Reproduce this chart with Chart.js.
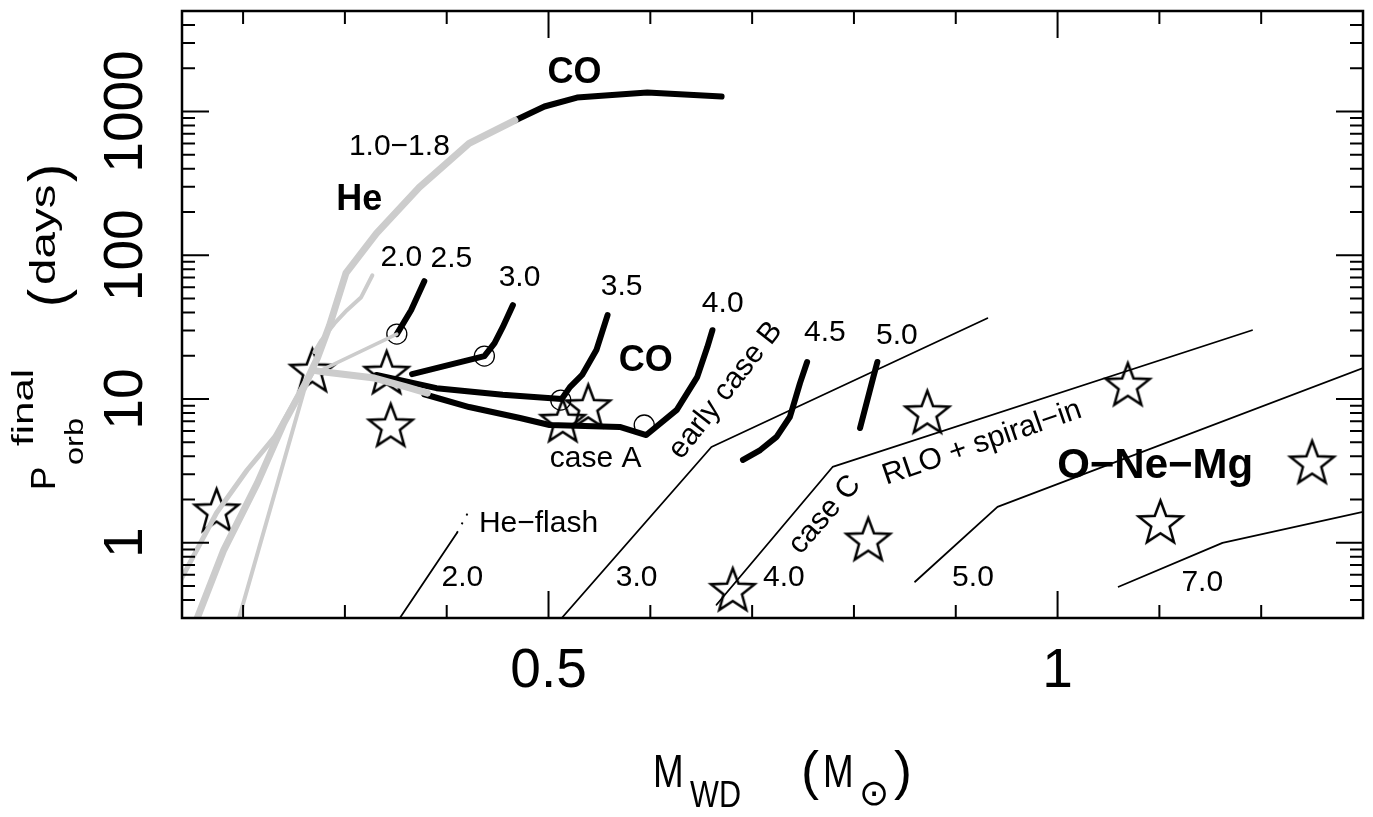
<!DOCTYPE html>
<html><head><meta charset="utf-8">
<script src="https://cdn.jsdelivr.net/npm/chart.js@4.4.1/dist/chart.umd.min.js"></script>
<style>html,body{margin:0;padding:0;background:#fff;}canvas{display:block;}</style>
</head><body>
<canvas id="c" width="1373" height="817"></canvas>
<script>
// ---------- axes ----------
const massMin = 0.14, massMax = 1.30;
const porbMin = 0.3, porbMax = 5000;
const massTicks = [0.2,0.3,0.4,0.5,0.6,0.7,0.8,0.9,1.0,1.1,1.2];
const massLabelValues = [0.5, 1.0];
const massLabelTexts = ['0.5', '1'];
const porbLabelValues = [1, 10, 100, 1000];
const porbLabelTexts = ['1', '10', '100', '1000'];

// ---------- grey (He white dwarf) tracks ----------
const heMainMass = [0.155,0.181,0.214,0.240,0.263,0.273,0.285,0.301,0.331,0.373,0.422,0.467];
const heMainPorb = [0.30,0.89,2.6,6.8,13.6,19.3,32.6,75,142,297,600,866];
const heLeftMass = [0.138,0.174,0.204,0.231,0.257,0.268];
const heLeftPorb = [0.54,1.62,3.21,5.45,11.5,15.2];
const heSteepMass = [0.196,0.260,0.268];
const heSteepPorb = [0.30,11.5,15.2];
const heFlatMass = [0.268,0.280,0.329,0.361,0.381];
const heFlatPorb = [15.9,15.4,14.0,12.1,11.0];
const heLinkMass = [0.277,0.351];
const heLinkPorb = [15.9,28.3];
const he20Mass = [0.270,0.277,0.290,0.302,0.316,0.327];
const he20Porb = [21.2,25.7,33.7,41.5,51.1,72.6];

// ---------- black (CO white dwarf) tracks ----------
const coWideMass = [0.467,0.496,0.528,0.597,0.670];
const coWidePorb = [866,1083,1250,1355,1271];
const co25Mass = [0.351,0.365,0.378];
const co25Porb = [28.3,41.5,66];
const co30Mass = [0.366,0.437,0.447,0.455,0.465];
const co30Porb = [14.9,19.9,24.5,31.6,45];
const co35Mass = [0.331,0.390,0.455,0.513,0.521,0.533,0.547,0.558];
const co35Porb = [14.7,11.9,10.7,10.0,12.1,14.7,21.9,38.3];
const co40Mass = [0.378,0.422,0.472,0.501,0.570,0.596,0.626,0.646,0.656,0.661];
const co40Porb = [10.8,8.8,7.38,6.6,6.4,5.62,8.4,14.2,23,30.1];
const co45Mass = [0.691,0.708,0.724,0.737,0.740,0.747,0.754];
const co45Porb = [3.77,4.42,5.45,7.5,8.8,12.9,18.1];
const co50Mass = [0.806,0.819,0.823];
const co50Porb = [6.29,14.2,18.1];

// ---------- thin boundary lines ----------
const flashMass = [0.354,0.410];
const flashPorb = [0.30,1.17];
const flashDotMass = [0.410,0.424];
const flashDotPorb = [1.17,1.78];
const bound30Mass = [0.513,0.660,0.931];
const bound30Porb = [0.30,4.64,36.5];
const bound40Mass = [0.665,0.779,1.191];
const bound40Porb = [0.371,3.37,30.1];
const bound50Mass = [0.860,0.941,1.30];
const bound50Porb = [0.536,1.78,16.4];
const bound70Mass = [1.060,1.162,1.30];
const bound70Porb = [0.495,1.0,1.64];

// ---------- observed systems & markers ----------
const starMass = [0.174,0.268,0.341,0.345,0.514,0.539,0.681,0.814,0.872,1.069,1.101,1.250];
const starPorb = [1.64,15.4,14.9,6.4,6.9,8.7,0.46,1.03,7.9,12.3,1.36,3.54];
const circMass = [0.351,0.437,0.512,0.594];
const circPorb = [28.3,19.9,9.84,6.6];

// ---------- in-plot labels ----------
const labelText = ['CO','1.0\u22121.8','He','2.0','2.5','3.0','3.5','CO','4.0','early case B','4.5','5.0','case A','He\u2212flash','2.0','3.0','4.0','5.0','7.0','case C','RLO + spiral\u2212in','O\u2212Ne\u2212Mg'];
const labelMass = [0.5256,0.3535,0.3142,0.3555,0.4046,0.4715,0.5718,0.5954,0.6711,0.674,0.7714,0.8422,0.5462,0.4902,0.4154,0.5865,0.7311,0.9169,1.1421,0.7714,0.9258,1.0959];
const labelPorb = [1836,571,241,96.8,95.3,70.3,60,18.4,45.7,11.5,28.7,27.4,3.83,1.355,0.571,0.571,0.571,0.571,0.527,1.565,4.95,3.42];
const labelAngle = [0,0,0,0,0,0,0,0,0,-52,0,0,0,0,0,0,0,0,0,-49,-19,0];
const labelBold = [1,0,1,0,0,0,0,1,0,0,0,0,0,0,0,0,0,0,0,0,0,1];

const GREY = '#cccccc';
const FONT = '"Liberation Sans", Arial, "DejaVu Sans", sans-serif';

function pts(m, p) { return m.map((v, i) => ({x: v, y: p[i]})); }
function line(label, m, p, color, w, extra) {
  return Object.assign({
    label, data: pts(m, p), showLine: true, borderColor: color, borderWidth: w,
    pointRadius: 0, pointHoverRadius: 0, fill: false, tension: 0,
    borderCapStyle: 'round', borderJoinStyle: 'round'
  }, extra || {});
}
function makeStar(R, ratio, lw) {
  const s = Math.ceil(2 * R + 2 * lw + 4);
  const c = document.createElement('canvas');
  c.width = s; c.height = s;
  const g = c.getContext('2d');
  g.translate(s / 2, s / 2);
  g.beginPath();
  for (let i = 0; i < 10; i++) {
    const a = -Math.PI / 2 + i * Math.PI / 5;
    const rr = (i % 2) ? R * ratio : R;
    g.lineTo(rr * Math.cos(a), rr * Math.sin(a));
  }
  g.closePath();
  g.lineWidth = lw; g.lineJoin = 'miter'; g.strokeStyle = '#000';
  g.stroke();
  return c;
}
const starImg = makeStar(23, 0.42, 2.5);

const datasets = [
  line('He 1.0-1.8', heMainMass, heMainPorb, GREY, 7),
  line('He left', heLeftMass, heLeftPorb, GREY, 5),
  line('He steep', heSteepMass, heSteepPorb, GREY, 4),
  line('He flat', heFlatMass, heFlatPorb, GREY, 7),
  line('He link', heLinkMass, heLinkPorb, GREY, 3.5),
  line('He 2.0', he20Mass, he20Porb, GREY, 4),
  line('CO wide', coWideMass, coWidePorb, '#000', 6),
  line('CO 2.5', co25Mass, co25Porb, '#000', 6),
  line('CO 3.0', co30Mass, co30Porb, '#000', 6),
  line('CO 3.5', co35Mass, co35Porb, '#000', 6),
  line('CO 4.0', co40Mass, co40Porb, '#000', 6),
  line('CO 4.5', co45Mass, co45Porb, '#000', 6),
  line('CO 5.0', co50Mass, co50Porb, '#000', 6),
  line('He-flash', flashMass, flashPorb, '#000', 1.8),
  line('He-flash dotted', flashDotMass, flashDotPorb, '#000', 1.8, {borderDash: [2, 8], borderCapStyle: 'butt'}),
  line('early case B', bound30Mass, bound30Porb, '#000', 1.8),
  line('case C', bound40Mass, bound40Porb, '#000', 1.8),
  line('5.0 bound', bound50Mass, bound50Porb, '#000', 1.8),
  line('7.0 bound', bound70Mass, bound70Porb, '#000', 1.8),
  { label: 'onset', data: pts(circMass, circPorb), showLine: false, pointStyle: 'circle',
    pointRadius: 10, pointHoverRadius: 10, borderColor: '#000', borderWidth: 1.3, backgroundColor: 'rgba(0,0,0,0)' },
  { label: 'observed', data: pts(starMass, starPorb), showLine: false, pointStyle: starImg,
    pointRadius: 23, pointHoverRadius: 23, borderColor: '#000', backgroundColor: 'rgba(0,0,0,0)' }
];

function txt(ctx, t, x, y, font, sx) {
  ctx.save();
  ctx.translate(x, y);
  ctx.scale(sx || 1, 1);
  ctx.font = font;
  ctx.fillText(t, 0, 0);
  ctx.restore();
}

const frame = {
  id: 'frame',
  afterDraw(chart) {
    const ctx = chart.ctx, a = chart.chartArea;
    const xs = chart.scales.x, ys = chart.scales.y;
    ctx.save();
    // in-plot labels
    ctx.fillStyle = '#000';
    ctx.textAlign = 'center'; ctx.textBaseline = 'middle';
    labelText.forEach((t, i) => {
      const px = xs.getPixelForValue(labelMass[i]);
      const py = ys.getPixelForValue(labelPorb[i]);
      ctx.save();
      ctx.translate(px, py);
      ctx.rotate(labelAngle[i] * Math.PI / 180);
      ctx.font = labelBold[i] ? ('bold ' + (t.length > 4 ? 42 : 36) + 'px ' + FONT) : ('30px ' + FONT);
      ctx.fillText(t, 0, 0);
      ctx.restore();
    });
    // frame
    ctx.strokeStyle = '#000'; ctx.lineWidth = 2.5;
    ctx.strokeRect(a.left, a.top, a.right - a.left, a.bottom - a.top);
    ctx.lineWidth = 2;
    ctx.beginPath();
    massTicks.forEach(v => {
      const px = xs.getPixelForValue(v);
      const len = massLabelValues.includes(v) ? 27 : 13;
      ctx.moveTo(px, a.bottom); ctx.lineTo(px, a.bottom - len);
      ctx.moveTo(px, a.top); ctx.lineTo(px, a.top + len);
    });
    for (let d = 0.1; d <= 1000.5; d *= 10) {
      for (let k = 1; k <= 9; k++) {
        const v = d * k;
        if (v < porbMin * 0.999 || v > porbMax) continue;
        const py = ys.getPixelForValue(v);
        const len = (k === 1) ? 27 : 13;
        ctx.moveTo(a.left, py); ctx.lineTo(a.left + len, py);
        ctx.moveTo(a.right, py); ctx.lineTo(a.right - len, py);
      }
    }
    ctx.stroke();
    // tick labels
    ctx.font = '55px ' + FONT;
    ctx.textAlign = 'center'; ctx.textBaseline = 'alphabetic';
    massLabelValues.forEach((v, i) => ctx.fillText(massLabelTexts[i], xs.getPixelForValue(v), 687));
    porbLabelValues.forEach((v, i) => {
      ctx.save();
      ctx.translate(142, ys.getPixelForValue(v));
      ctx.rotate(-Math.PI / 2);
      ctx.fillText(porbLabelTexts[i], 0, 0);
      ctx.restore();
    });
    // x title: M_WD (M_sun)
    ctx.textAlign = 'left';
    txt(ctx, 'M', 653, 787, '46px ' + FONT, 0.8);
    txt(ctx, 'WD', 690, 807, '36px ' + FONT, 0.85);
    txt(ctx, '(', 801, 789, '54px ' + FONT, 1);
    txt(ctx, 'M', 823, 787, '46px ' + FONT, 0.8);
    txt(ctx, '\u2299', 859, 805, '36px "DejaVu Sans", ' + FONT, 1);
    txt(ctx, ')', 894, 789, '54px ' + FONT, 1);
    // y title: P_orb^final (days), reading upwards
    ctx.save();
    ctx.rotate(-Math.PI / 2);
    txt(ctx, 'P', -490, 55, '35px ' + FONT, 1);
    txt(ctx, 'orb', -465, 83, '26px ' + FONT, 1.25);
    txt(ctx, 'final', -446, 33, '29px ' + FONT, 1.45);
    txt(ctx, '(', -307, 66, '54px ' + FONT, 1);
    txt(ctx, 'days', -285, 55, '35px ' + FONT, 1.36);
    txt(ctx, ')', -182, 66, '54px ' + FONT, 1);
    ctx.restore();
    ctx.restore();
  }
};

new Chart(document.getElementById('c'), {
  type: 'scatter',
  data: { datasets },
  options: {
    responsive: false, animation: false, devicePixelRatio: 1,
    layout: { autoPadding: false, padding: { left: 182, right: 10, top: 11, bottom: 199 } },
    plugins: { legend: { display: false }, tooltip: { enabled: false } },
    scales: {
      x: { type: 'linear', min: massMin, max: massMax, display: false },
      y: { type: 'logarithmic', min: porbMin, max: porbMax, display: false }
    }
  },
  plugins: [frame]
});
</script>
</body></html>
